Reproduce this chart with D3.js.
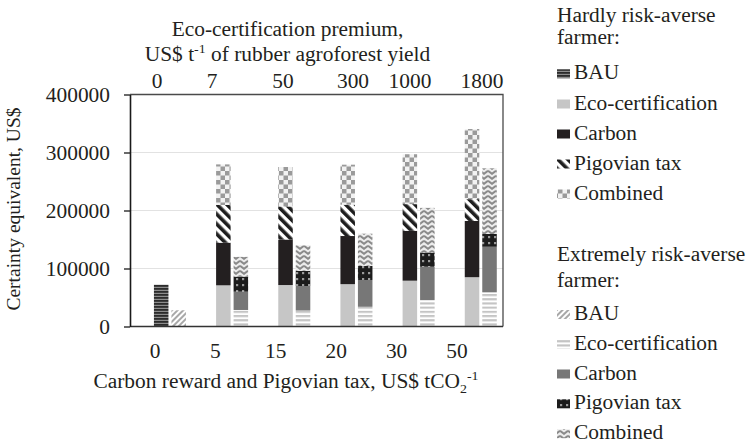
<!DOCTYPE html>
<html>
<head>
<meta charset="utf-8">
<script src="https://cdn.jsdelivr.net/npm/d3@7"></script>
<style>
  html, body { margin: 0; padding: 0; background: #fff; }
  svg { display: block; }
  text { font-family: "Liberation Serif", "Times New Roman", serif; fill: #231f20; }
</style>
</head>
<body>
<svg id="chart" width="755" height="446"></svg>
<script>
// Category labels
const carbonPrices = ["0", "5", "15", "20", "30", "50"];
const premiums = ["0", "7", "50", "300", "1000", "1800"];
const yTicks = [0, 100000, 200000, 300000, 400000];

// Certainty equivalents (US$), hardly risk-averse farmer
const hardlyBAU      = [72000, null, null, null, null, null];
const hardlyEco      = [null, 71000, 71500, 73000, 79000, 85000];
const hardlyCarbon   = [null, 144500, 150000, 156000, 165000, 182000];
const hardlyPigovian = [null, 209500, 207000, 210000, 211000, 219500];
const hardlyCombined = [null, 279500, 275000, 279000, 297000, 340500];

// Certainty equivalents (US$), extremely risk-averse farmer
const extremeBAU      = [28000, null, null, null, null, null];
const extremeEco      = [null, 28500, 27500, 34000, 45700, 59000];
const extremeCarbon   = [null, 60000, 69800, 80200, 103000, 137500];
const extremePigovian = [null, 86000, 96000, 104500, 127300, 159500];
const extremeCombined = [null, 120000, 140000, 160000, 204500, 272700];

const seriesNames = ["BAU", "Eco-certification", "Carbon", "Pigovian tax", "Combined"];

const farmers = [
  { key: "hardly", title: ["Hardly risk-averse", "farmer:"],
    series: [hardlyBAU, hardlyEco, hardlyCarbon, hardlyPigovian, hardlyCombined],
    fills: ["hBAU", "hEco", "hCarbon", "hPig", "hComb"] },
  { key: "extreme", title: ["Extremely risk-averse", "farmer:"],
    series: [extremeBAU, extremeEco, extremeCarbon, extremePigovian, extremeCombined],
    fills: ["eBAU", "eEco", "eCarbon", "ePig", "eComb"] }
];

const svg = d3.select("#chart");
const SX = 1.07;          // horizontal text stretch
const FS = 20;            // base font size

const plot = { left: 130, right: 503, top: 94.5, bottom: 326.5 };

// ---------- patterns ----------
const defs = svg.append("defs");
function pattern(id, w, h, rotate) {
  const p = defs.append("pattern").attr("id", id)
    .attr("patternUnits", "userSpaceOnUse").attr("width", w).attr("height", h);
  if (rotate) p.attr("patternTransform", `rotate(${rotate})`);
  return p;
}
// hardly BAU: dark horizontal stripes
let p = pattern("hBAU", 4, 3);
p.append("rect").attr("width", 4).attr("height", 3).attr("fill", "#8c8c8c");
p.append("rect").attr("width", 4).attr("height", 1.8).attr("fill", "#2b2b2b");
// hardly Pigovian: bold black/white diagonal stripes
p = pattern("hPig", 7, 7, -45);
p.append("rect").attr("width", 7).attr("height", 7).attr("fill", "#fff");
p.append("rect").attr("width", 3.6).attr("height", 7).attr("fill", "#1e1e1e");
// hardly Combined: checkerboard
p = pattern("hComb", 9, 9);
p.append("rect").attr("width", 9).attr("height", 9).attr("fill", "#f2f2f2");
p.append("rect").attr("width", 4.5).attr("height", 4.5).attr("fill", "#9a9a9a");
p.append("rect").attr("x", 4.5).attr("y", 4.5).attr("width", 4.5).attr("height", 4.5).attr("fill", "#9a9a9a");
// extreme BAU: light diagonal hatch
p = pattern("eBAU", 4, 4, 45);
p.append("rect").attr("width", 4).attr("height", 4).attr("fill", "#fff");
p.append("rect").attr("width", 2).attr("height", 4).attr("fill", "#a8a8a8");
// extreme Eco-certification: light horizontal stripes
p = pattern("eEco", 4, 4.2);
p.append("rect").attr("width", 4).attr("height", 4.2).attr("fill", "#fff");
p.append("rect").attr("width", 4).attr("height", 2.1).attr("fill", "#c4c4c4");
// extreme Pigovian: black with grey dots
p = pattern("ePig", 6, 6);
p.append("rect").attr("width", 6).attr("height", 6).attr("fill", "#1c1c1c");
p.append("rect").attr("x", 2).attr("y", 2).attr("width", 2.2).attr("height", 2.2).attr("fill", "#9a9a9a");
// extreme Combined: zigzag
p = pattern("eComb", 8, 5);
p.append("rect").attr("width", 8).attr("height", 5).attr("fill", "#ececec");
p.append("polyline").attr("points", "0,0.8 4,3.8 8,0.8").attr("fill", "none")
  .attr("stroke", "#8a8a8a").attr("stroke-width", 2);

const solid = { hEco: "#c6c6c6", hCarbon: "#231f20", eCarbon: "#777777" };
const fillOf = id => solid[id] || `url(#${id})`;

// ---------- scales ----------
const y = d3.scaleLinear().domain([0, 400000]).range([plot.bottom, plot.top]);
const x0 = d3.scaleBand().domain(carbonPrices).range([plot.left, plot.right]);
const bw = x0.bandwidth();
const x1 = d3.scaleBand().domain(farmers.map(f => f.key))
  .range([0.385 * bw, 0.9 * bw]).paddingInner(0.17);
const xBottomLabel = d3.scalePoint().domain(carbonPrices).range([155, 457]);
const xTopLabel = d3.scaleOrdinal().domain(premiums).range([157, 212, 283, 353, 410, 482]);

// text helper with horizontal stretch
function label(parent, x, yy, str, anchor, size) {
  const g = parent.append("g").attr("transform", `translate(${x},${yy}) scale(${SX},1)`);
  const t = g.append("text").attr("text-anchor", anchor || "start")
    .style("font-size", (size || FS) + "px");
  if (str != null) t.text(str);
  return t;
}

// ---------- grid ----------
svg.append("g").selectAll("line").data(yTicks.filter(v => v > 0 && v < 400000)).join("line")
  .attr("x1", plot.left).attr("x2", plot.right)
  .attr("y1", d => y(d)).attr("y2", d => y(d))
  .attr("stroke", "#e2e2e2").attr("stroke-width", 1);

// ---------- bars ----------
const segments = [];
farmers.forEach(f => {
  carbonPrices.forEach((c, i) => {
    let prev = 0;
    f.series.forEach((arr, s) => {
      const v = arr[i];
      if (v == null) return;
      segments.push({ cat: c, farmer: f.key, lo: prev, hi: v, fill: f.fills[s] });
      prev = v;
    });
  });
});
svg.append("g").selectAll("rect").data(segments).join("rect")
  .attr("x", d => x0(d.cat) + x1(d.farmer))
  .attr("width", x1.bandwidth())
  .attr("y", d => y(d.hi))
  .attr("height", d => y(d.lo) - y(d.hi))
  .attr("fill", d => fillOf(d.fill));

// ---------- frame ----------
svg.append("path")
  .attr("d", `M${plot.left},${plot.top}H${plot.right}V${plot.bottom}`)
  .attr("fill", "none").attr("stroke", "#4a4a4a").attr("stroke-width", 1.3);
svg.append("line").attr("x1", plot.left).attr("x2", plot.right)
  .attr("y1", plot.bottom).attr("y2", plot.bottom)
  .attr("stroke", "#333").attr("stroke-width", 1.3);

// ---------- y axis ----------
const yAxis = svg.append("g").attr("transform", `translate(${plot.left},0)`)
  .call(d3.axisLeft(y).tickValues(yTicks).tickSize(6).tickSizeOuter(0).tickFormat(d3.format("d")));
yAxis.select(".domain").attr("stroke", "#1a1a1a").attr("stroke-width", 1.6);
yAxis.selectAll(".tick line").attr("stroke", "#1a1a1a").attr("stroke-width", 1.3);
yAxis.selectAll(".tick text")
  .attr("x", 0).attr("dy", "0.34em")
  .attr("transform", `translate(-20,0) scale(${SX},1)`)
  .style("font-size", FS + "px").style("font-family", "Liberation Serif").attr("fill", "#231f20");

// ---------- category labels ----------
carbonPrices.forEach(c => label(svg, xBottomLabel(c), 358, c, "middle"));
premiums.forEach(pr => label(svg, xTopLabel(pr), 88, pr, "middle"));

// ---------- axis titles ----------
const xt = label(svg, 286, 388, null, "middle");
xt.append("tspan").text("Carbon reward and Pigovian tax, US$ tCO");
xt.append("tspan").attr("dy", 5).style("font-size", "13px").text("2");
xt.append("tspan").attr("dy", -13).style("font-size", "13px").text("-1");

label(svg, 287.5, 36, "Eco-certification premium,", "middle");
const tt = label(svg, 287.5, 61, null, "middle");
tt.append("tspan").text("US$ t");
tt.append("tspan").attr("dy", -8).style("font-size", "13px").text("-1");
tt.append("tspan").attr("dy", 8).text(" of rubber agroforest yield");

svg.append("text").attr("transform", "translate(20,209) rotate(-90)")
  .attr("text-anchor", "middle").style("font-size", "19.5px")
  .text("Certainty equivalent, US$");

// ---------- legend ----------
const legendLayout = [
  { titleY: [21.7, 43.5], itemY: [79.3, 109.5, 139.5, 169.5, 199.5] },
  { titleY: [260.7, 286.7], itemY: [320, 349.8, 379.5, 409.3, 439.2] }
];
farmers.forEach((f, k) => {
  const L = legendLayout[k];
  const lg = svg.append("g");
  f.title.forEach((line, j) => label(lg, 557, L.titleY[j], line, "start"));
  seriesNames.forEach((name, s) => {
    const by = L.itemY[s];
    lg.append("rect").attr("x", 557).attr("y", by - 10).attr("width", 13).attr("height", 9)
      .attr("fill", fillOf(f.fills[s]));
    label(lg, 574, by, name, "start");
  });
});
</script>
</body>
</html>
